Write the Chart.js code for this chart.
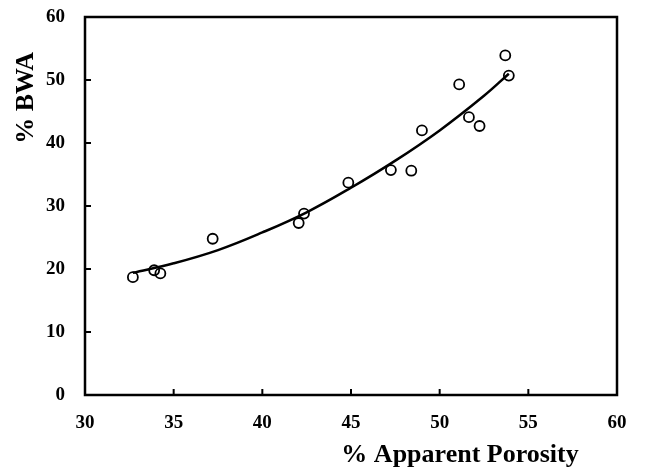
<!DOCTYPE html>
<html lang="en">
<head>
<meta charset="UTF-8">
<title>% BWA vs % Apparent Porosity</title>
<script src="https://cdn.jsdelivr.net/npm/chart.js"></script>
<style>
  body { margin: 0; background: #fff; }
  #wrap { width: 645px; height: 468px; }
</style>
</head>
<body>
<div id="wrap"><canvas id="chart" width="645" height="468"></canvas></div>
<script>
// measured points
const porosity = [32.7, 33.9, 34.25, 37.2, 42.05, 42.35, 44.85, 47.25, 48.4, 49.0, 51.1, 51.65, 52.25, 53.7, 53.9];
const bwa      = [18.7, 19.8, 19.3, 24.8, 27.3, 28.8, 33.7, 35.7, 35.6, 42.0, 49.3, 44.1, 42.7, 53.9, 50.7];

// trend curve
const fitX = [32.7, 35, 37.5, 40, 42.5, 45, 47.5, 50, 52.5, 53.9];
const fitY = [19.4, 20.9, 23.0, 25.8, 29.0, 32.9, 37.2, 42.0, 47.5, 51.0];

const xTicks = [30, 35, 40, 45, 50, 55, 60];
const yTicks = [0, 10, 20, 30, 40, 50, 60];

const xTitle = '% Apparent Porosity';
const yTitle = '% BWA';

const FONT = "'Liberation Serif', 'Times New Roman', serif";

const framePlugin = {
    id: 'frame',
    afterDatasetsDraw(chart) {
        const { ctx, chartArea: a, scales } = chart;
        ctx.save();
        ctx.strokeStyle = '#000';
        ctx.lineWidth = 2.5;
        ctx.strokeRect(a.left, a.top, a.right - a.left, a.bottom - a.top);
        // inward tick marks
        ctx.lineWidth = 2;
        ctx.beginPath();
        xTicks.slice(1, -1).forEach(v => {
            const px = scales.x.getPixelForValue(v);
            ctx.moveTo(px, a.bottom);
            ctx.lineTo(px, a.bottom - 6);
        });
        yTicks.slice(1, -1).forEach(v => {
            const py = scales.y.getPixelForValue(v);
            ctx.moveTo(a.left, py);
            ctx.lineTo(a.left + 6, py);
        });
        ctx.stroke();

        // axis titles
        ctx.fillStyle = '#000';
        ctx.font = 'bold 26px ' + FONT;
        ctx.textAlign = 'center';
        ctx.textBaseline = 'alphabetic';
        ctx.fillText(xTitle, a.left + (a.right - a.left) * 0.705, a.bottom + 67);
        ctx.translate(33, a.top + (a.bottom - a.top) * 0.214);
        ctx.rotate(-Math.PI / 2);
        ctx.fillText(yTitle, 0, 0);
        ctx.restore();
    }
};

const tickFont = { family: FONT, size: 19, weight: 'bold' };

function noPad(s) {
    s.paddingTop = 0;
    s.paddingBottom = 0;
    s.paddingLeft = 0;
    s.paddingRight = 0;
}

new Chart(document.getElementById('chart'), {
    type: 'scatter',
    data: {
        datasets: [
            {
                label: 'fit',
                data: fitX.map((x, i) => ({ x: x, y: fitY[i] })),
                showLine: true,
                tension: 0.4,
                borderColor: '#000',
                borderWidth: 2.5,
                pointRadius: 0,
                fill: false
            },
            {
                label: 'data',
                data: porosity.map((x, i) => ({ x: x, y: bwa[i] })),
                pointStyle: 'circle',
                pointRadius: 5,
                borderColor: '#000',
                borderWidth: 1.8,
                backgroundColor: 'rgba(0,0,0,0)'
            }
        ]
    },
    options: {
        responsive: false,
        animation: false,
        layout: { padding: { top: 17, right: 28, left: 0, bottom: 0 } },
        plugins: {
            legend: { display: false },
            tooltip: { enabled: false }
        },
        scales: {
            x: {
                type: 'linear',
                min: 30,
                max: 60,
                grid: { display: false, drawTicks: false },
                border: { display: false },
                afterBuildTicks: s => { s.ticks = xTicks.map(v => ({ value: v })); },
                afterFit: s => { s.height = 73; noPad(s); },
                ticks: { font: tickFont, color: '#000', padding: 17 }
            },
            y: {
                min: 0,
                max: 60,
                grid: { display: false, drawTicks: false },
                border: { display: false },
                afterBuildTicks: s => { s.ticks = yTicks.map(v => ({ value: v })); },
                afterFit: s => { s.width = 85; noPad(s); },
                ticks: { font: tickFont, color: '#000', padding: 20 }
            }
        }
    },
    plugins: [framePlugin]
});
</script>
</body>
</html>
